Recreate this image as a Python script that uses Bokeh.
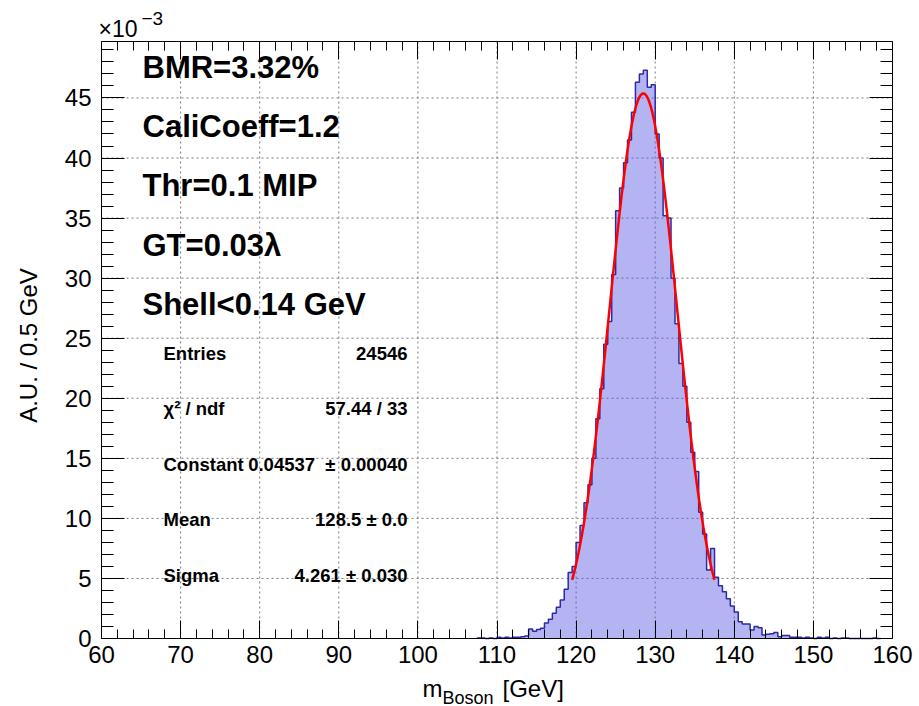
import numpy as np
from bokeh.plotting import figure
from bokeh.models import Range1d, FixedTicker, LinearAxis, Label
from bokeh.embed import file_html
from bokeh.resources import INLINE

# ---------------- data (values in units of 1e-3, "A.U. / 0.5 GeV") ----------------
bin_width = 0.5
first_bin_low = 107.5
counts_e3 = [
    0.05,                                   # 107.5
    0.05, 0.0, 0.05, 0.0, 0.1, 0.05, 0.1, 0.05, 0.1, 0.1,   # 108.0 - 112.5
    0.15, 0.2, 0.8, 0.6, 0.75, 0.85, 1.3, 1.6, 2.1, 2.6,    # 113.0 - 117.5
    3.2, 4.1, 5.5, 6.0, 8.0, 9.4, 11.3, 12.8, 15.0, 18.3,   # 118.0 - 122.5
    20.8, 24.5, 26.4, 30.3, 35.6, 37.5, 39.6, 41.5, 43.8, 46.3,  # 123.0 - 127.5
    47.0, 47.3, 45.9, 46.1, 42.0, 40.0, 35.2, 35.0, 30.0, 26.2,  # 128.0 - 132.5
    22.9, 21.0, 18.0, 15.5, 13.9, 10.5, 8.7, 5.7, 7.5, 5.1,      # 133.0 - 137.5
    4.4, 3.9, 3.3, 2.7, 2.2, 1.4, 1.2, 1.2, 0.7, 1.0,            # 138.0 - 142.5
    0.9, 0.3, 0.35, 0.4, 0.5, 0.15, 0.25, 0.25, 0.1, 0.1,        # 143.0 - 147.5
    0.1, 0.05, 0.1, 0.05, 0.0, 0.1, 0.05, 0.1, 0.0, 0.05,        # 148.0 - 152.5
    0.0, 0.05, 0.05, 0.0, 0.0, 0.0, 0.0, 0.0, 0.0, 0.05, 0.0,    # 153.0 - 158.5
]

# Gaussian fit parameters (as printed in the stats box)
fit_constant_e3 = 45.37
fit_mean = 128.5
fit_sigma = 4.261
fit_lo, fit_hi = 119.5, 137.5

info_lines = ["BMR=3.32%", "CaliCoeff=1.2", "Thr=0.1 MIP", "GT=0.03λ", "Shell<0.14 GeV"]
stat_names = ["Entries", "χ² / ndf", "Constant", "Mean", "Sigma"]
stat_values = ["24546", "57.44 / 33", "0.04537\u00a0 ± 0.00040", "128.5 ± 0.0", "4.261 ± 0.030"]

x_ticks = [60, 70, 80, 90, 100, 110, 120, 130, 140, 150, 160]
y_ticks = [0, 5, 10, 15, 20, 25, 30, 35, 40, 45]
y_tick_labels = ["0", "5", "10", "15", "20", "25", "30", "35", "40", "45"]

x_title_main = "m"
x_title_sub = "Boson"
x_title_unit = "[GeV]"
y_title = "A.U. / 0.5 GeV"
exp_base = "×10"
exp_power = "−3"

X0, X1 = 60.0, 160.0
Y0, Y1 = 0.0, 49.7

# ---------------- layout geometry (pixels of the 919x706 canvas) ----------------
W, H = 919, 706
BOX_L, BOX_R, BOX_T, BOX_B = 101, 892, 41, 638
sx = (BOX_R - BOX_L) / (X1 - X0)      # px per GeV
sy = (BOX_B - BOX_T) / (Y1 - Y0)      # px per 1e-3

def px_x(px):
    return X0 + (px - BOX_L) / sx

def px_y(py):
    return Y0 + (BOX_B - py) / sy

# ---------------- derived geometry ----------------
n = len(counts_e3)
lows = [first_bin_low + i * bin_width for i in range(n)]
step_x = [lows[0]]
step_y = [0.0]
for lo, v in zip(lows, counts_e3):
    step_x += [lo, lo + bin_width]
    step_y += [v, v]
step_x.append(lows[-1] + bin_width)
step_y.append(0.0)

fit_x = np.linspace(fit_lo, fit_hi, 400)
fit_y = fit_constant_e3 * np.exp(-0.5 * ((fit_x - fit_mean) / fit_sigma) ** 2)

FONT = "Liberation Sans"

p = figure(width=W, height=H, output_backend="svg", toolbar_location=None, title=None,
           x_range=Range1d(px_x(0), px_x(W)), y_range=Range1d(px_y(H), px_y(0)),
           x_axis_location=None, y_axis_location=None,
           min_border_left=0, min_border_right=0, min_border_top=0, min_border_bottom=0)
p.background_fill_color = "white"
p.border_fill_color = "white"
p.outline_line_color = None
p.grid.visible = False

x_minor = [v for v in np.arange(X0, X1 + 0.01, 2) if v not in x_ticks]
y_minor = [v for v in np.arange(Y0, Y1, 1) if v not in y_ticks]
xt = FixedTicker(ticks=x_ticks, minor_ticks=x_minor)
yt = FixedTicker(ticks=y_ticks, minor_ticks=y_minor)

def make_axis(ticker, loc, bounds, major_in, minor_in, font_size, standoff, show_labels):
    ax = LinearAxis(ticker=ticker, fixed_location=loc, bounds=bounds)
    ax.axis_line_color = "black"
    ax.axis_line_width = 1
    ax.major_tick_line_color = "black"
    ax.minor_tick_line_color = "black"
    ax.major_tick_in = major_in
    ax.major_tick_out = 0
    ax.minor_tick_in = minor_in
    ax.minor_tick_out = 0
    ax.major_label_text_font = FONT
    ax.major_label_text_font_size = font_size
    ax.major_label_text_color = "black"
    ax.major_label_standoff = standoff
    if not show_labels:
        ax.major_label_text_alpha = 0
    return ax

# grid (dotted, at major ticks) drawn inside the plot box
gx = [t for t in x_ticks if X0 < t < X1]
gy = [t for t in y_ticks if Y0 < t < Y1]
p.segment(x0=gx, y0=[Y0] * len(gx), x1=gx, y1=[Y1] * len(gx),
          line_color="#7a7a7a", line_dash="2 3", line_width=1)
p.segment(x0=[X0] * len(gy), y0=gy, x1=[X1] * len(gy), y1=gy,
          line_color="#7a7a7a", line_dash="2 3", line_width=1)

# histogram
p.varea(x=step_x, y1=0, y2=step_y, fill_color="#5858e2", fill_alpha=0.45)
p.line(step_x, step_y, line_color="#2a2aa8", line_width=1.5)
# fit
p.line(fit_x, fit_y, line_color="#ff0000", line_width=2.5)

# axes (all four sides, ticks pointing inwards)
bottom = make_axis(xt, Y0, (X0, X1), 18, 9, "24px", 7, True)
p.add_layout(bottom, "below")
left = make_axis(yt, X0, (Y0, Y1), 23, 12, "24px", 10, True)
left.major_label_overrides = {t: s for t, s in zip(y_ticks, y_tick_labels)}
p.add_layout(left, "left")
top = make_axis(xt, Y1, (X0, X1), 18, 9, "0px", 0, False)
p.add_layout(top, "above")
right = make_axis(yt, X1, (Y0, Y1), 23, 12, "0px", 0, False)
p.add_layout(right, "right")

# big info text
for i, t in enumerate(info_lines):
    p.add_layout(Label(x=px_x(142), y=px_y(67) - 4.93 * i, text=t, text_font=FONT,
                       text_font_size="31px", text_font_style="bold",
                       text_color="black", text_baseline="alphabetic"))

# stats box
for i, (nm, vl) in enumerate(zip(stat_names, stat_values)):
    yy = px_y(353) - 4.62 * i
    p.add_layout(Label(x=px_x(163), y=yy, text=nm, text_font=FONT, text_font_size="18.5px",
                       text_font_style="bold", text_baseline="middle", text_color="black"))
    p.add_layout(Label(x=px_x(407), y=yy, text=vl, text_font=FONT, text_font_size="18.5px",
                       text_font_style="bold", text_baseline="middle", text_align="right",
                       text_color="black"))

# exponent (top-left)
p.add_layout(Label(x=px_x(98), y=px_y(28), text=exp_base, text_font=FONT,
                   text_font_size="23px", text_baseline="middle", text_color="black"))
p.add_layout(Label(x=px_x(141), y=px_y(18), text=exp_power, text_font=FONT,
                   text_font_size="19px", text_baseline="middle", text_color="black"))

# axis titles
p.add_layout(Label(x=px_x(28), y=px_y(345), text=y_title, text_font=FONT,
                   text_font_size="24px", angle=np.pi / 2, text_align="center",
                   text_baseline="middle", text_color="black"))
p.add_layout(Label(x=px_x(422), y=px_y(688), text=x_title_main, text_font=FONT,
                   text_font_size="24px", text_baseline="middle", text_color="black"))
p.add_layout(Label(x=px_x(442), y=px_y(697), text=x_title_sub, text_font=FONT,
                   text_font_size="18px", text_baseline="middle", text_color="black"))
p.add_layout(Label(x=px_x(502), y=px_y(688), text=x_title_unit, text_font=FONT,
                   text_font_size="24px", text_baseline="middle", text_color="black"))

open("out.html", "w").write(file_html(p, INLINE))
